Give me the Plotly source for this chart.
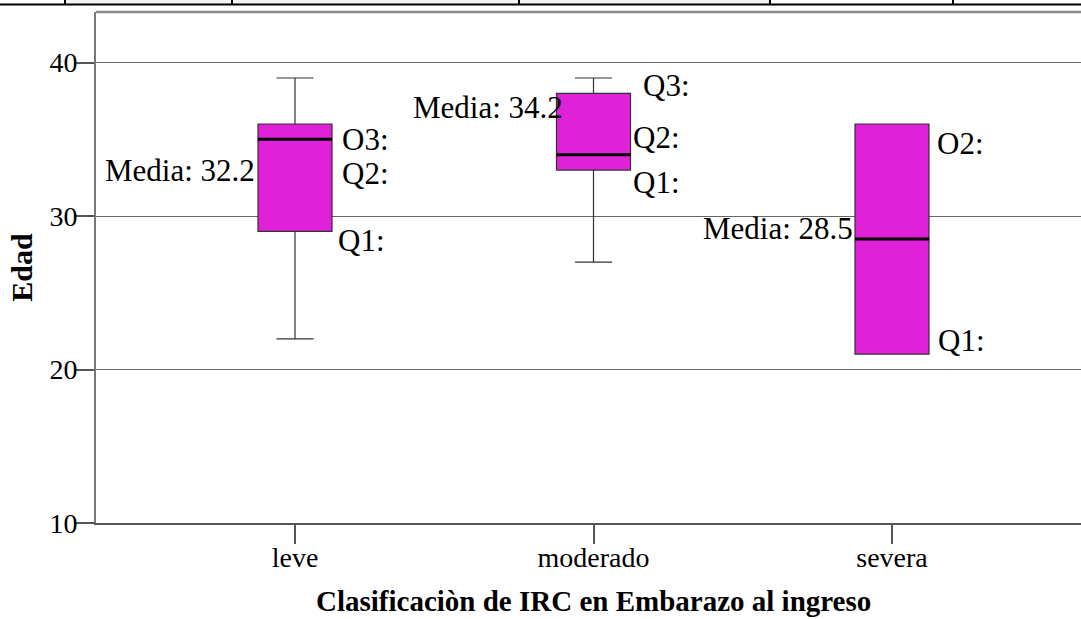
import plotly.graph_objects as go

# datos del grafico (edad por clasificacion de IRC)
categorias = ["leve", "moderado", "severa"]
minimo = [22, 27, 21]
q1 = [29, 33, 21]
mediana = [35, 34, 28.5]
q3 = [36, 38, 36]
maximo = [39, 39, 36]
medias = [32.2, 34.2, 28.5]
y_ticks = [10, 20, 30, 40]

# el grafico original sigue mas alla del borde derecho
W, H = 1200, 619
L, T, B = 96, 12, 523
PW = W - L
PH = B - T
step = 298.5  # px por categoria


def px(xp):
    return (xp - L) / PW


def py(yp):
    return (B - yp) / PH


fig = go.Figure()
fig.add_trace(go.Box(
    x=categorias, q1=q1, median=mediana, q3=q3,
    lowerfence=minimo, upperfence=maximo,
    boxpoints=False, width=0.248, whiskerwidth=0.5,
    fillcolor="#DF22D8", line=dict(color="#333333", width=1.2),
    showlegend=False, hoverinfo="skip",
))

# lineas de mediana gruesas
for i, m in enumerate(mediana):
    fig.add_shape(type="line", xref="x", yref="y", x0=i - 0.124, x1=i + 0.124,
                  y0=m, y1=m, line=dict(color="black", width=3))

afont = dict(family="Liberation Serif", size=31, color="black")
ann = []
# Media labels (left of box)
media_pos = [(0, 33.0, -38), (1, 37.05, -29), (2, 29.2, -37)]
for (i, y, xs), m in zip(media_pos, medias):
    ann.append(dict(x=categorias[i], y=y, xref="x", yref="y", xshift=xs,
                    text=f"Media: {m}", xanchor="right", yanchor="middle",
                    showarrow=False, font=afont))
# etiquetas de cuartiles
q_labels = [
    (0, "O3:", 35.0, 45), (0, "Q2:", 32.8, 45), (0, "Q1:", 28.4, 41),
    (1, "Q3:", 38.5, 47), (1, "Q2:", 35.1, 37), (1, "Q1:", 32.2, 37),
    (2, "O2:", 34.76, 43), (2, "Q1:", 21.9, 44),
]
for i, t, y, xs in q_labels:
    ann.append(dict(x=categorias[i], y=y, xref="x", yref="y", xshift=xs,
                    text=t, xanchor="left", yanchor="middle",
                    showarrow=False, font=afont))
# titulo del eje x, centrado en la categoria central
ann.append(dict(x="moderado", xref="x", y=py(601), yref="paper",
                text="Clasificaciòn de IRC en Embarazo al ingreso",
                xanchor="center", yanchor="middle", showarrow=False,
                font=dict(family="Liberation Serif", size=29, weight="bold")))
fig.update_layout(annotations=ann)

# marco superior del grafico
fig.add_shape(type="line", xref="paper", yref="paper", x0=0, x1=1,
              y0=1, y1=1, line=dict(color="#888888", width=2.5))

# barra superior tipo tabla
fig.add_shape(type="rect", xref="paper", yref="paper", x0=px(65), x1=px(770),
              y0=py(0), y1=py(4.5), fillcolor="#f2f2f2", line_width=0, layer="below")
fig.add_shape(type="line", xref="paper", yref="paper", x0=px(0), x1=1,
              y0=py(4.5), y1=py(4.5), line=dict(color="black", width=2))
for xv in [65, 232, 519, 770, 953]:
    fig.add_shape(type="line", xref="paper", yref="paper", x0=px(xv), x1=px(xv),
                  y0=py(0), y1=py(4.5), line=dict(color="black", width=2))

x0 = -199 / step
fig.update_layout(
    width=W, height=H,
    margin=dict(l=L, r=0, t=T, b=H - B, pad=0),
    paper_bgcolor="white", plot_bgcolor="white",
    font=dict(family="Liberation Serif", color="black"),
    xaxis=dict(
        type="category", range=[x0, x0 + PW / step], automargin=False,
        showline=True, linecolor="#555555", linewidth=2, mirror=False,
        ticks="outside", ticklen=19, tickcolor="#555555", tickwidth=1.5,
        tickfont=dict(size=28), ticklabelstandoff=-11,
        showgrid=False, zeroline=False,
    ),
    yaxis=dict(
        range=[10, 43.3], tickvals=y_ticks, automargin=False,
        showline=True, linecolor="#777777", linewidth=2,
        ticks="outside", ticklen=20, tickcolor="#555555", tickwidth=1.5,
        tickfont=dict(size=28), ticklabelstandoff=-9,
        showgrid=True, gridcolor="#666666", gridwidth=1.2,
        zeroline=False,
        title=dict(text="Edad", font=dict(size=30, weight="bold"), standoff=8),
    ),
)

fig.write_html("out.html", config={"displayModeBar": False},
               post_script="document.body.style.margin='0';"
                           "document.body.style.overflow='hidden';")
